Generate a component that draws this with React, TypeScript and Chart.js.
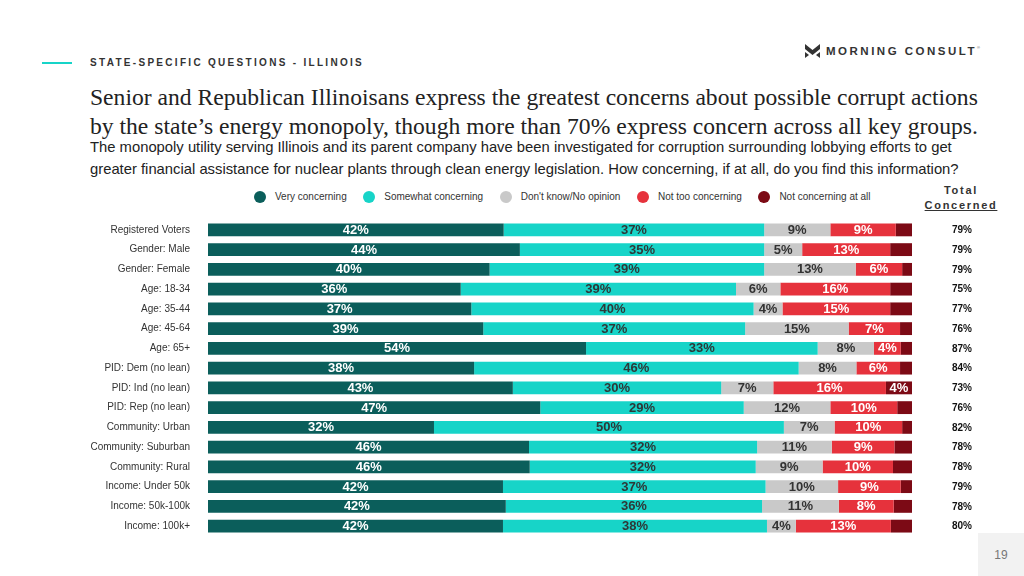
import React, { useEffect, useRef } from "react";
import { Chart, registerables } from "chart.js";

Chart.register(...registerables);

const categories = [
  "Registered Voters",
  "Gender: Male",
  "Gender: Female",
  "Age: 18-34",
  "Age: 35-44",
  "Age: 45-64",
  "Age: 65+",
  "PID: Dem (no lean)",
  "PID: Ind (no lean)",
  "PID: Rep (no lean)",
  "Community: Urban",
  "Community: Suburban",
  "Community: Rural",
  "Income: Under 50k",
  "Income: 50k-100k",
  "Income: 100k+",
];

const seriesNames = [
  "Very concerning",
  "Somewhat concerning",
  "Don't know/No opinion",
  "Not too concerning",
  "Not concerning at all",
];
const seriesColors = ["#0b5e5b", "#17d4c8", "#c9c9c9", "#e6323c", "#7c0a15"];
const labelColors = ["#ffffff", "#2e3838", "#333333", "#ffffff", "#ffffff"];

const veryConcerning = [42.0, 44.3, 40.0, 35.9, 37.4, 39.1, 53.7, 37.8, 43.3, 47.2, 32.1, 45.6, 45.7, 41.9, 42.3, 41.9];
const somewhatConcerning = [37.0, 34.7, 39.0, 39.1, 40.1, 37.2, 32.9, 46.1, 29.6, 28.9, 49.7, 32.4, 32.1, 37.3, 36.4, 37.5];
const dontKnow = [9.4, 5.4, 13.0, 6.3, 4.1, 14.7, 8.0, 8.2, 7.4, 12.3, 7.2, 10.6, 9.5, 10.3, 10.9, 4.1];
const notTooConcerning = [9.3, 12.5, 6.6, 15.6, 15.3, 7.3, 3.8, 6.2, 16.0, 9.5, 9.6, 8.9, 10.0, 8.9, 7.8, 13.5];
const notConcerningAtAll = [2.3, 3.1, 1.4, 3.1, 3.1, 1.7, 1.6, 1.7, 3.7, 2.1, 1.4, 2.5, 2.7, 1.6, 2.6, 3.0];

const veryLabels = ["42", "44", "40", "36", "37", "39", "54", "38", "43", "47", "32", "46", "46", "42", "42", "42"];
const somewhatLabels = ["37", "35", "39", "39", "40", "37", "33", "46", "30", "29", "50", "32", "32", "37", "36", "38"];
const dontKnowLabels = ["9", "5", "13", "6", "4", "15", "8", "8", "7", "12", "7", "11", "9", "10", "11", "4"];
const notTooLabels = ["9", "13", "6", "16", "15", "7", "4", "6", "16", "10", "10", "9", "10", "9", "8", "13"];
const notAtAllLabels = ["", "", "", "", "", "", "", "", "4", "", "", "", "", "", "", ""];

const totalConcerned = [79, 79, 79, 75, 77, 76, 87, 84, 73, 76, 82, 78, 78, 79, 78, 80];

const seriesValues = [veryConcerning, somewhatConcerning, dontKnow, notTooConcerning, notConcerningAtAll];
const seriesLabels = [veryLabels, somewhatLabels, dontKnowLabels, notTooLabels, notAtAllLabels];

const SANS = "'Liberation Sans', Arial, Helvetica, sans-serif";

const labelPlugin = {
  id: "segmentLabels",
  afterDatasetsDraw(chart: any) {
    const ctx = chart.ctx;
    ctx.save();
    ctx.textAlign = "center";
    ctx.textBaseline = "middle";
    ctx.font = `bold 13px ${SANS}`;
    chart.data.datasets.forEach((_ds: any, di: number) => {
      const meta = chart.getDatasetMeta(di);
      meta.data.forEach((el: any, i: number) => {
        const t = seriesLabels[di][i];
        if (!t) return;
        const p = el.getProps(["x", "base", "y"], true);
        ctx.fillStyle = labelColors[di];
        ctx.fillText(t + "%", (p.x + p.base) / 2, p.y + 0.5);
      });
    });
    ctx.font = `bold 10px ${SANS}`;
    ctx.fillStyle = "#111111";
    const yScale = chart.scales.y;
    const xPos = chart.chartArea.right + 50;
    totalConcerned.forEach((v, i) => {
      ctx.fillText(v + "%", xPos, yScale.getPixelForValue(i) + 0.5);
    });
    ctx.restore();
  },
};

function ChartCanvas() {
  const ref = useRef<HTMLCanvasElement | null>(null);
  useEffect(() => {
    if (!ref.current) return;
    const chart = new Chart(ref.current, {
      type: "bar",
      data: {
        labels: categories,
        datasets: seriesNames.map((name, i) => ({
          label: name,
          data: seriesValues[i],
          backgroundColor: seriesColors[i],
          borderWidth: 0,
          barPercentage: 0.65,
          categoryPercentage: 1,
        })),
      },
      options: {
        indexAxis: "y",
        animation: false,
        responsive: true,
        maintainAspectRatio: false,
        layout: { padding: { left: 0, right: 112, top: 0, bottom: 0 } },
        plugins: {
          legend: { display: false },
          tooltip: { enabled: false },
          title: { display: false },
        },
        scales: {
          x: {
            stacked: true,
            min: 0,
            max: 100,
            display: false,
          },
          y: {
            stacked: true,
            grid: { display: false, drawTicks: false },
            border: { display: false },
            ticks: {
              padding: 18,
              color: "#333333",
              font: { family: SANS, size: 10 },
              autoSkip: false,
            },
            afterFit: (scale: any) => {
              scale.width = 208;
            },
          },
        },
      } as any,
      plugins: [labelPlugin],
    });
    return () => chart.destroy();
  }, []);
  return (
    <div style={{ position: "absolute", left: 0, top: 196, width: 1024, height: 364 }}>
      <canvas ref={ref} />
    </div>
  );
}

export default function App() {
  return (
    <div
      style={{
        position: "fixed",
        left: 0,
        top: 0,
        width: 1024,
        height: 576,
        background: "#ffffff",
        overflow: "hidden",
        fontFamily: SANS,
      }}
    >
      {/* header rule + section label */}
      <div style={{ position: "absolute", left: 42, top: 62, width: 30, height: 1.5, background: "#17d4c8" }} />
      <div
        style={{
          position: "absolute",
          left: 90,
          top: 56,
          fontSize: 10,
          fontWeight: "bold",
          letterSpacing: "2.3px",
          color: "#333333",
          whiteSpace: "nowrap",
          lineHeight: "14px",
        }}
      >
        STATE-SPECIFIC QUESTIONS - ILLINOIS
      </div>

      {/* logo */}
      <div style={{ position: "absolute", left: 805, top: 44, display: "flex", alignItems: "center" }}>
        <svg width="15" height="14" viewBox="0 0 15 14">
          <polygon points="0,0 7.5,6 15,0 15,5 7.5,11 0,5" fill="#333333" />
          <polygon points="0,8 4,11 0,14" fill="#333333" />
          <polygon points="15,8 11,11 15,14" fill="#333333" />
        </svg>
        <div
          style={{
            marginLeft: 6,
            fontSize: 11.5,
            fontWeight: "bold",
            letterSpacing: "2.5px",
            color: "#333333",
            whiteSpace: "nowrap",
            lineHeight: "14px",
          }}
        >
          MORNING CONSULT
        </div>
        <div style={{ fontSize: 4, color: "#555", marginTop: -8, marginLeft: 0 }}>®</div>
      </div>

      {/* title */}
      <div
        style={{
          position: "absolute",
          left: 90,
          top: 83,
          width: 940,
          fontFamily: "'Liberation Serif', 'Times New Roman', serif",
          fontSize: 23.6,
          lineHeight: "29px",
          color: "#222222",
          whiteSpace: "nowrap",
        }}
      >
        <div>Senior and Republican Illinoisans express the greatest concerns about possible corrupt actions</div>
        <div>by the state’s energy monopoly, though more than 70% express concern across all key groups.</div>
      </div>

      {/* subtitle */}
      <div
        style={{
          position: "absolute",
          left: 90,
          top: 136,
          fontSize: 14.8,
          lineHeight: "22px",
          color: "#222222",
          whiteSpace: "nowrap",
        }}
      >
        <div>
          The monopoly utility serving Illinois and its parent company have been investigated for corruption surrounding lobbying efforts to get
        </div>
        <div>
          greater financial assistance for nuclear plants through clean energy legislation. How concerning, if at all, do you find this information?
        </div>
      </div>

      {/* legend */}
      <div style={{ position: "absolute", left: 254, top: 191, height: 12, display: "flex", alignItems: "center" }}>
        {seriesNames.map((n, i) => (
          <div key={n} style={{ display: "flex", alignItems: "center", marginRight: 16.5 }}>
            <div style={{ width: 12, height: 12, borderRadius: 6, background: seriesColors[i], marginRight: 9 }} />
            <div style={{ fontSize: 10, color: "#333333", whiteSpace: "nowrap", lineHeight: "12px" }}>{n}</div>
          </div>
        ))}
      </div>

      {/* total concerned header */}
      <div
        style={{
          position: "absolute",
          left: 911,
          top: 183,
          width: 100,
          textAlign: "center",
          fontSize: 11,
          fontWeight: "bold",
          letterSpacing: "1.7px",
          color: "#333333",
          lineHeight: "15px",
        }}
      >
        <div>Total</div>
        <div style={{ textDecoration: "underline" }}>Concerned</div>
      </div>

      <ChartCanvas />

      {/* page number */}
      <div
        style={{
          position: "absolute",
          left: 978,
          top: 533,
          width: 46,
          height: 43,
          background: "#f2f2f2",
          color: "#777777",
          fontSize: 12,
          display: "flex",
          alignItems: "center",
          justifyContent: "center",
        }}
      >
        19
      </div>
    </div>
  );
}
